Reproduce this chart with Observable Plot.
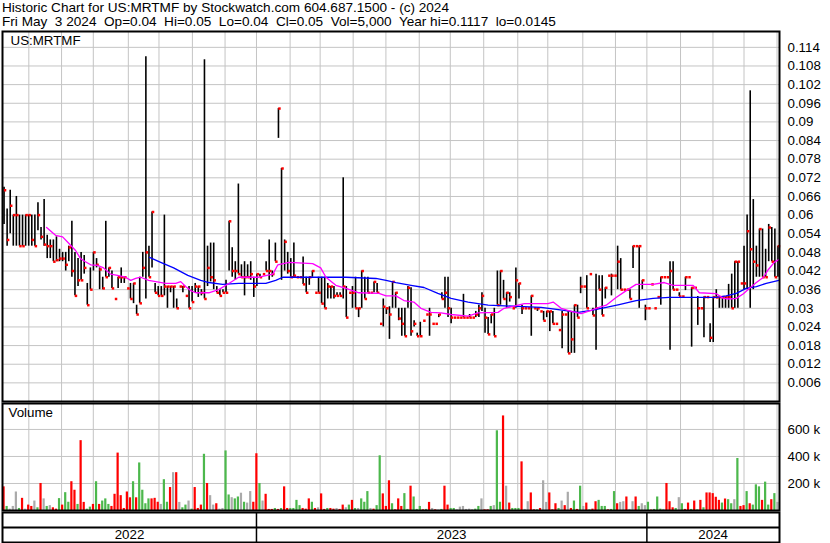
<!DOCTYPE html>
<html><head><meta charset="utf-8">
<script src="https://cdn.jsdelivr.net/npm/d3@7"></script>
<script src="https://cdn.jsdelivr.net/npm/@observablehq/plot@0.6"></script>
<style>
body{margin:0;background:#fff;}
#chart{position:relative;width:830px;height:543px;font-family:"Liberation Sans",Arial,sans-serif;color:#000;overflow:hidden;background:#fff}
#title{position:absolute;left:2px;top:1px;font-size:13.6px;line-height:14px;white-space:pre}
.panel{position:absolute;left:0}
.panel svg{display:block;overflow:visible}
</style></head>
<body>
<div id="chart">
  <div id="title"></div>
  <div id="price" class="panel" style="top:30px"></div>
  <div id="volume" class="panel" style="top:401px"></div>
  <div id="years" class="panel" style="top:511px"></div>
</div>
<script>
// ---------- text ----------
const titleLines = [
  "Historic Chart for US:MRTMF by Stockwatch.com 604.687.1500 - (c) 2024",
  "Fri May  3 2024  Op=0.04  Hi=0.05  Lo=0.04  Cl=0.05  Vol=5,000  Year hi=0.1117  lo=0.0145"
];
const symbolLabel = "US:MRTMF";
const volumeLabel = "Volume";

// ---------- axes ----------
const priceTicks = [0.006,0.012,0.018,0.024,0.03,0.036,0.042,0.048,0.054,0.06,0.066,0.072,0.078,0.084,0.09,0.096,0.102,0.108,0.114];
const volTicks = [200, 400, 600]; // thousands
// month starts (Jun 2022 ... May 2024) in bar units (1 bar = 2 trading days)
const monthStarts = [8.54,19.16,29.45,40.81,50.75,61.59,72.18,82.37,93.28,103.02,113.73,124.35,135.16,145.23,156.07,167.11,176.85,188.21,198.8,208.99,219.9,230.42,240.49,251.2];
const years = ["2022","2023","2024"];
const yearStart = [0, 82.37, 208.99];
const yearEnd = [82.37, 208.99, 252];

// ---------- price bars (each bar = 2 trading days, May 2022 -> May 3 2024) ----------
const hi = [
.069,.062,.068,.060,.066,.060,.060,.060,.060,
.060,.060,.064,.056,.065,.0535,.052,.052,.053,.049,
.048,.048,.050,.058,.048,.046,.048,.047,.038,.043,.048,
.046,.043,.040,.058,.043,.042,.033,.040,.043,.040,.0364,
.038,.038,.031,.040,.048,.111,.050,.061,.038,.037,
.037,.060,.037,.037,.037,.033,.037,.037,.034,.037,.037,
.038,.037,.036,.110,.050,.051,.051,.037,.036,.036,.039,
.058,.0495,.045,.070,.044,.045,.044,.045,.040,.041,
.041,.041,.045,.052,.042,.051,.0943,.075,.052,.048,.046,
.051,.040,.040,.0465,.040,.040,.042,.035,.040,.040,
.040,.038,.037,.037,.035,.035,.072,.037,.035,.037,
.040,.030,.042,.040,.040,.035,.0385,.038,.025,.033,.030,
.0305,.0385,.035,.030,.030,.030,.037,.0366,.026,.022,.0255,
.026,.028,.030,.025,.025,.028,.035,.040,.040,.030,
.027,.027,.027,.0345,.027,.028,.027,.029,.031,.035,.030,
.027,.028,.030,.042,.042,.039,.035,.035,.030,.043,.038,
.031,.030,.030,.034,.030,.030,.029,.029,.029,.029,
.029,.025,.023,.029,.028,.029,.029,.031,.031,.040,.037,
.0405,.041,.030,.041,.0405,.0405,.0366,.0405,.041,.0405,
.050,.046,.036,.036,.036,.050,.050,.050,.039,.031,
.030,.0377,.030,.0336,.040,.040,.040,.045,.045,.036,.035,
.0338,.040,.040,.0366,.0366,.0338,.030,.0336,.0336,.025,.0336,
.036,.0336,.0336,.0336,.0377,.041,.045,.045,.038,.050,
.060,.100,.065,.050,.0555,.0555,.049,.057,.056,.0555,.050
];
const lo = [
.057,.050,.054,.050,.050,.050,.050,.050,.050,
.050,.050,.055,.052,.050,.046,.046,.045,.045,.045,
.045,.042,.045,.040,.034,.037,.039,.041,.031,.036,.042,
.043,.036,.036,.040,.040,.0364,.033,.0364,.038,.038,.0364,
.033,.0315,.028,.0316,.040,.033,.040,.043,.035,.034,
.034,.034,.030,.035,.030,.030,.037,.035,.034,.030,.032,
.035,.0335,.034,.033,.037,.0385,.036,.035,.034,.035,.035,
.042,.040,.039,.041,.040,.034,.040,.039,.0335,.037,
.040,.041,.042,.039,.040,.045,.0847,.039,.042,.041,.040,
.040,.040,.040,.0377,.035,.0374,.040,.035,.035,.0315,
.030,.033,.033,.033,.034,.034,.033,.027,.035,.030,
.030,.027,.030,.033,.035,.035,.035,.035,.025,.024,.028,
.020,.030,.030,.026,.021,.021,.030,.021,.024,.021,.021,
.026,.028,.021,.025,.025,.027,.033,.030,.027,.025,
.027,.027,.027,.027,.027,.027,.027,.027,.027,.029,.022,
.0216,.025,.021,.031,.031,.033,.030,.032,.030,.030,.033,
.028,.030,.030,.021,.030,.029,.029,.026,.027,.0225,
.025,.025,.023,.017,.028,.0155,.0155,.0155,.027,.0347,.037,
.030,.041,.0277,.0165,.036,.0277,.033,.0405,.034,.0405,
.036,.036,.036,.036,.033,.0428,.050,.030,.036,.026,
.030,.0377,.030,.0336,.031,.040,.040,.0165,.036,.036,.0338,
.0338,.0357,.040,.0175,.0366,.0245,.030,.0205,.0336,.019,.019,
.0335,.030,.030,.030,.030,.030,.030,.030,.038,.036,
.036,.030,.036,.040,.040,.040,.040,.045,.045,.040,.040
];
const cl = [
.068,.052,.063,.060,.060,.050,.050,.060,.060,
.052,.050,.060,.053,.0505,.050,.050,.045,.0455,.046,
.046,.044,.0496,.042,.034,.039,.039,.043,.031,.036,.048,
.044,.0425,.0364,.040,.043,.0364,.033,.040,.040,.040,.0364,
.033,.038,.028,.0316,.043,.048,.040,.061,.035,.034,
.034,.037,.037,.037,.037,.030,.037,.037,.034,.030,.032,
.037,.037,.035,.033,.043,.040,.039,.035,.034,.035,.035,
.058,.042,.042,.041,.040,.040,.040,.041,.037,.041,
.040,.041,.042,.042,.041,.045,.0943,.075,.0514,.042,.040,
.0405,.040,.040,.0377,.035,.040,.042,.035,.035,.0315,
.030,.037,.037,.034,.034,.034,.037,.027,.035,.035,
.030,.030,.042,.033,.035,.035,.0385,.035,.025,.0305,.030,
.028,.0385,.035,.0267,.025,.021,.0366,.0226,.025,.021,.021,
.026,.028,.028,.025,.025,.028,.033,.035,.030,.027,
.027,.027,.027,.027,.027,.027,.027,.028,.030,.034,.027,
.0216,.028,.021,.031,.042,.033,.035,.0336,.030,.039,.038,
.030,.030,.030,.034,.030,.030,.029,.026,.029,.029,
.025,.025,.023,.028,.028,.0155,.020,.031,.027,.037,.037,
.030,.041,.0277,.030,.036,.0277,.0366,.0405,.0405,.0405,
.045,.036,.036,.036,.033,.050,.050,.050,.039,.030,
.030,.0377,.030,.0336,.040,.040,.040,.042,.036,.036,.0338,
.0338,.040,.040,.0366,.0366,.030,.030,.0336,.0336,.0205,.0336,
.0335,.0336,.0336,.0336,.0336,.030,.045,.045,.038,.038,
.0548,.049,.045,.0438,.0555,.040,.040,.056,.045,.040,.050
];
// moving averages: [bar position, value]
const magentaMA = [[14.3,0.056],[17.2,0.0535],[19.5,0.053],[21.4,0.051],[23.7,0.0486],[25.3,0.046],[26.9,0.045],[28.6,0.044],[30.8,0.0438],[32.8,0.043],[35.1,0.041],[37.3,0.0406],[39.9,0.040],[41.6,0.039],[43.2,0.0396],[44.8,0.040],[47.4,0.039],[49.7,0.0386],[52.9,0.038],[56.2,0.038],[57.8,0.0386],[59.4,0.037],[61,0.0357],[62.7,0.035],[66.9,0.035],[70.1,0.036],[73.4,0.038],[76.6,0.040],[83.1,0.040],[87.7,0.041],[89.3,0.044],[92.9,0.0448],[100.6,0.0444],[103.2,0.043],[104.9,0.040],[108.1,0.0374],[111.4,0.0364],[115.6,0.035],[122.1,0.0348],[124.4,0.034],[127.6,0.034],[130.2,0.0325],[133.4,0.032],[135.7,0.030],[139,0.0287],[142.2,0.0285],[145.5,0.028],[151,0.0275],[154.2,0.0285],[160.7,0.0287],[162.7,0.030],[165.6,0.0306],[169.2,0.0315],[176.9,0.0315],[178.6,0.032],[181.2,0.030],[184.4,0.029],[187.7,0.0283],[190.9,0.0293],[192.5,0.030],[195.8,0.031],[199,0.0335],[202.3,0.0357],[205.5,0.0377],[211,0.0377],[214.6,0.0383],[217.5,0.0374],[224,0.0374],[226,0.035],[231.5,0.0347],[233.8,0.0332],[235.7,0.033],[238,0.0332],[240.3,0.0347],[242.2,0.0364],[244.5,0.0383],[246.8,0.040],[248.4,0.0425],[250.3,0.0448],[251.8,0.0457]];
const blueMA = [[47.7,0.0464],[51.3,0.0448],[55.5,0.043],[60.1,0.0406],[64.3,0.039],[66.9,0.0383],[71.4,0.0377],[76.6,0.038],[85.4,0.038],[88.6,0.039],[90.9,0.040],[111.4,0.040],[121.1,0.0396],[124.4,0.039],[127.6,0.0383],[132.5,0.0374],[136.7,0.0367],[141.2,0.0348],[145.5,0.0332],[151,0.032],[157.5,0.031],[167.2,0.0306],[174.7,0.0303],[182.1,0.0293],[186.7,0.0287],[190.9,0.0293],[195.8,0.0303],[200,0.0312],[205.5,0.0325],[211,0.0332],[216.2,0.0335],[231.5,0.0335],[234.7,0.034],[238,0.0348],[241.2,0.0364],[244.5,0.037],[247.7,0.038],[251.8,0.039]];

// ---------- volume (thousands) and direction: u = up, d = down, n = unchanged ----------
const vol = [
175,30,10,30,137,15,90,10,40,
30,70,20,200,86,30,36,20,10,88,
40,132,61,213,150,45,517,60,10,25,45,
213,45,70,86,45,30,120,425,110,15,137,
94,213,94,352,150,50,86,86,90,61,
45,228,61,170,280,280,60,20,40,70,10,
170,15,40,416,200,110,40,50,10,15,441,
115,95,86,100,128,61,55,140,61,420,
200,70,120,8,8,15,8,15,175,15,15,
15,75,36,15,10,86,61,15,20,123,
8,15,15,10,15,8,40,20,40,75,
15,15,86,61,140,15,10,36,405,123,30,
220,50,5,86,30,125,8,180,100,8,30,
5,8,60,15,5,3,8,180,40,15,
15,5,25,30,8,10,5,10,30,86,5,
5,30,36,590,61,700,180,55,15,15,15,
360,8,65,130,5,5,15,220,60,130,
5,50,15,70,36,135,15,70,8,180,30,
55,5,10,65,75,30,30,5,8,140,
50,60,65,100,8,65,100,30,50,36,
61,3,8,100,10,8,200,65,20,15,95,
50,8,55,8,70,5,75,20,130,130,125,
98,75,55,85,80,50,80,385,30,36,
140,50,40,190,175,75,210,40,80,125,60
];
const volDir = [
"dunnnudnd","dnudnunddu","duuddudduud","uduuudddddd","duduuuuddd","nuudndnuunu",
"dddudnndnnu","unuununndd","undddududdu","uuudddudnd","duddnddnud","unuuunduudd",
"duddduuduuu","dudndnuddu","unnnnnnuund","dunuudnduuu","dnnddudnnd","ddundndudun",
"dudduuuduu","dnndnndunn","uduuundddun","uddudududdd","dduduunudd","uduuuduudun"
].join("").split("");

// ---------- render ----------
const FONT = "Liberation Sans, Arial, sans-serif";
const GRID = "#c4c4c4";
const N = hi.length;
const idx = d3.range(N);
const mismatch = [lo.length, cl.length, vol.length, volDir.length].some(n => n !== N);

document.getElementById("title").textContent = titleLines.join("\n") + (mismatch ? "  [len " + [N, lo.length, cl.length, vol.length, volDir.length].join(",") + "]" : "");

const xCfg = {domain: [0, N], axis: null};
const baseStyle = {fontFamily: FONT, fontSize: "13.33px", background: "transparent", color: "black", overflow: "visible"};

const price = Plot.plot({
  width: 830, height: 372,
  marginLeft: 2, marginRight: 51, marginTop: 1, marginBottom: 1,
  x: xCfg,
  y: {domain: [0, 0.1191], axis: null},
  style: baseStyle,
  marks: [
    Plot.ruleY(priceTicks, {stroke: GRID, strokeWidth: 1}),
    Plot.ruleX(monthStarts, {stroke: GRID, strokeWidth: 1}),
    Plot.axisY(priceTicks, {anchor: "right", tickSize: 0, tickPadding: 8, tickFormat: d => String(d), fontSize: 13.33}),
    Plot.ruleX(idx, {x: i => i + 0.5, y1: i => lo[i], y2: i => hi[i], stroke: "black", strokeWidth: 1.6}),
    Plot.dot(idx, {x: i => i + 0.5, y: i => cl[i], symbol: "square", r: 1.4, fill: "#ff0000", dx: 1}),
    Plot.line(blueMA, {x: d => d[0], y: d => d[1], stroke: "#0000ff", strokeWidth: 1.3}),
    Plot.line(magentaMA, {x: d => d[0], y: d => d[1], stroke: "#ff00ff", strokeWidth: 1.3}),
    Plot.text([symbolLabel], {frameAnchor: "top-left", dx: 8, dy: 4, text: d => d, fontSize: 13.33, textAnchor: "start"}),
    Plot.frame({stroke: "black", strokeWidth: 2})
  ]
});
document.getElementById("price").append(price);

const dirColor = {u: "#4cb84c", d: "#ff0000", n: "#aaaaaa"};
const volMarks = ["n", "u", "d"].map(k =>
  Plot.rectY(idx.filter(i => volDir[i] === k), {x1: i => i + 0.14, x2: i => i + 0.86, y1: 0, y2: i => vol[i], fill: dirColor[k]})
);
const volume = Plot.plot({
  width: 830, height: 111,
  marginLeft: 2, marginRight: 51, marginTop: 2, marginBottom: 2,
  x: xCfg,
  y: {domain: [0, 792], axis: null},
  style: baseStyle,
  marks: [
    Plot.ruleY(volTicks, {stroke: GRID, strokeWidth: 1}),
    Plot.ruleX(monthStarts, {stroke: GRID, strokeWidth: 1}),
    ...volMarks,
    Plot.axisY(volTicks, {anchor: "right", tickSize: 0, tickPadding: 8, tickFormat: d => `${d} k`, fontSize: 13.33}),
    Plot.text([volumeLabel], {frameAnchor: "top-left", dx: 6, dy: 4, text: d => d, fontSize: 13.33, textAnchor: "start"}),
    Plot.frame({stroke: "black", strokeWidth: 2})
  ]
});
document.getElementById("volume").append(volume);

const yearsPlot = Plot.plot({
  width: 830, height: 32,
  marginLeft: 2, marginRight: 51, marginTop: 1, marginBottom: 1,
  x: xCfg,
  y: {domain: [2, 0], axis: null},
  style: baseStyle,
  marks: [
    Plot.ruleY([1], {stroke: "black", strokeWidth: 2}),
    Plot.ruleX(yearStart.slice(1), {stroke: "black", strokeWidth: 1.5}),
    Plot.text(years, {x: (d, i) => (yearStart[i] + yearEnd[i]) / 2, y: 1.5, text: d => d, fontSize: 13.33}),
    Plot.frame({stroke: "black", strokeWidth: 2})
  ]
});
document.getElementById("years").append(yearsPlot);
</script>
</body></html>
